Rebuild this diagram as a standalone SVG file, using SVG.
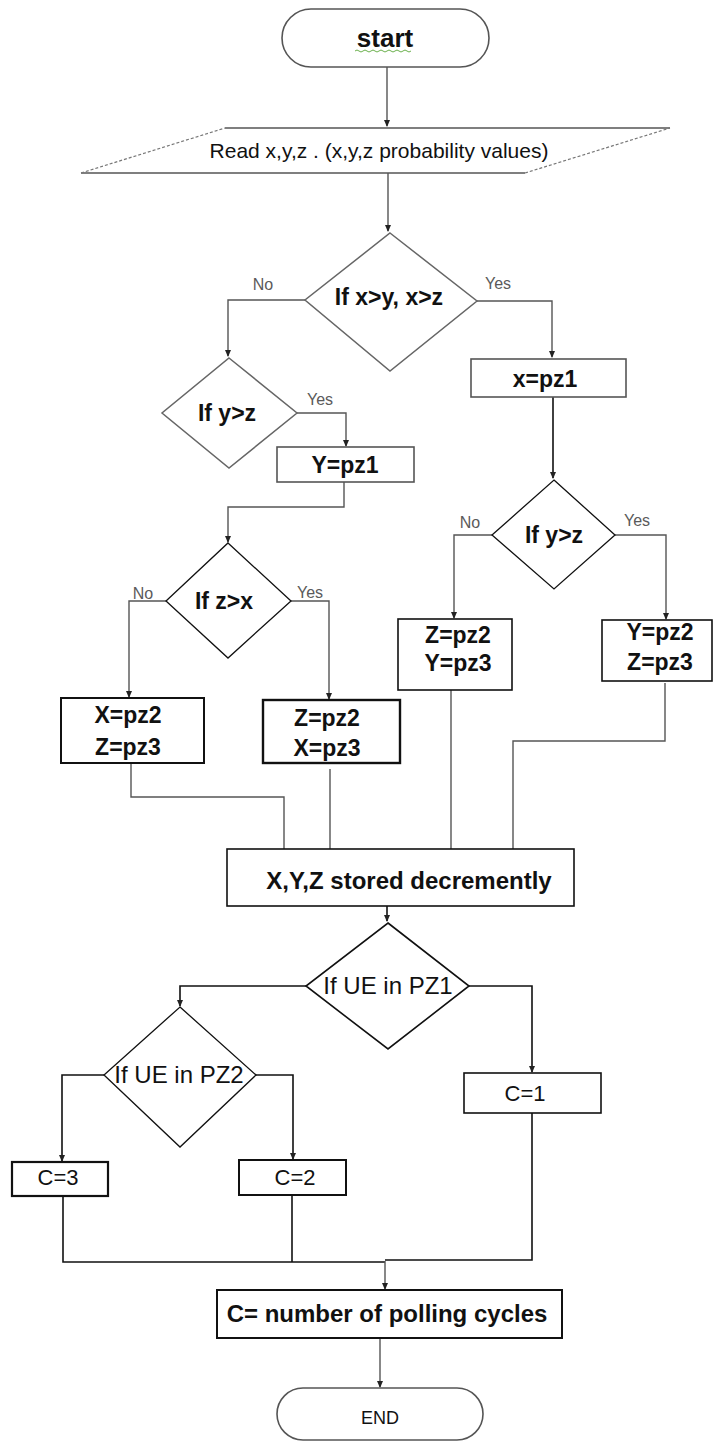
<svg xmlns="http://www.w3.org/2000/svg" width="713" height="1445" viewBox="0 0 713 1445">
<defs>
<style>
.bg{fill:#fff}
.box{fill:#fff;stroke:#555;stroke-width:1.6}
.boxk{fill:#fff;stroke:#111;stroke-width:2}
.dia{fill:#fff;stroke:#666;stroke-width:1.5}
.diak{fill:#fff;stroke:#111;stroke-width:1.6}
.ln{fill:none;stroke:#555;stroke-width:1.4}
.lnk{fill:none;stroke:#111;stroke-width:1.6}
.t{font-family:"Liberation Sans",Arial,sans-serif;fill:#111;text-anchor:middle}
.b{font-weight:bold}
.lab{font-family:"Liberation Sans",Arial,sans-serif;fill:#5a5a5a;font-size:16px;text-anchor:middle}
</style>
<marker id="ah" markerWidth="8" markerHeight="8" refX="6" refY="4" orient="auto" markerUnits="userSpaceOnUse">
<path d="M0,1 L7,4 L0,7 Z" fill="#222"/>
</marker>
</defs>
<rect class="bg" x="0" y="0" width="713" height="1445"/>

<g id="connectors">
<path class="ln" d="M387,67 V126" marker-end="url(#ah)"/>
<path class="ln" d="M388,173 V231" marker-end="url(#ah)"/>
<path class="ln" d="M305,300 H228 V356" marker-end="url(#ah)"/>
<path class="ln" d="M477,301 H552 V357" marker-end="url(#ah)"/>
<path class="ln" d="M297,413 H346 V446" marker-end="url(#ah)"/>
<path class="ln" d="M344,482 V507 H228 V542" marker-end="url(#ah)"/>
<path class="lnk" d="M553,397 V478" marker-end="url(#ah)"/>
<path class="ln" d="M492,535 H454 V618" marker-end="url(#ah)"/>
<path class="ln" d="M615,535 H666 V619" marker-end="url(#ah)"/>
<path class="ln" d="M166,601 H129 V697" marker-end="url(#ah)"/>
<path class="ln" d="M291,601 H329 V699" marker-end="url(#ah)"/>
<path class="ln" d="M131,763 V797 H284 V849"/>
<path class="ln" d="M330,769 V849"/>
<path class="ln" d="M451,690 V849"/>
<path class="ln" d="M665,683 V741 H513 V849"/>
<path class="lnk" d="M387,906 V921" marker-end="url(#ah)"/>
<path class="lnk" d="M306,986 H180 V1006" marker-end="url(#ah)"/>
<path class="lnk" d="M469,986 H532 V1072" marker-end="url(#ah)"/>
<path class="lnk" d="M104,1075 H62 V1161" marker-end="url(#ah)"/>
<path class="lnk" d="M256,1075 H293 V1159" marker-end="url(#ah)"/>
<path class="lnk" d="M63,1196 V1262 H385"/>
<path class="lnk" d="M292,1195 V1262"/>
<path class="lnk" d="M532,1113 V1260 H385"/>
<path class="ln" d="M385,1261 V1289" marker-end="url(#ah)"/>
<path class="ln" d="M380,1338 V1387" marker-end="url(#ah)"/>
</g>

<g id="start">
<rect x="282" y="9" width="207" height="58" rx="29" ry="29" fill="#fff" stroke="#555" stroke-width="1.6"/>
<text class="t b" x="385" y="47" font-size="26">start</text>
<path d="M355,51 q2,-2 4,0 t4,0 t4,0 t4,0 t4,0 t4,0 t4,0 t4,0 t4,0 t4,0 t4,0 t4,0 t4,0 t4,0" fill="none" stroke="#6ab04c" stroke-width="1"/>
</g>

<g id="read">
<path d="M225,128 H670" fill="none" stroke="#555" stroke-width="1.6"/>
<path d="M81,173 H525" fill="none" stroke="#555" stroke-width="1.6"/>
<path d="M81,173 L225,128 M525,173 L670,128" fill="none" stroke="#777" stroke-width="1.2" stroke-dasharray="3,2"/>
<text class="t" x="379" y="158" font-size="21" fill="#333">Read x,y,z . (x,y,z probability values)</text>
</g>

<g id="d_xyz">
<polygon class="dia" points="390,233 477,301 390,371 305,300"/>
<text class="t b" x="389" y="305" font-size="23">If x&gt;y, x&gt;z</text>
<text class="lab" x="263" y="290">No</text>
<text class="lab" x="498" y="289">Yes</text>
</g>

<g id="d_yz_left">
<polygon class="dia" points="229,358 297,413 229,468 162,413"/>
<text class="t b" x="227" y="421" font-size="23">If y&gt;z</text>
<text class="lab" x="320" y="405">Yes</text>
</g>

<g id="b_ypz1">
<rect class="box" x="277" y="447" width="137" height="35"/>
<text class="t b" x="345" y="473" font-size="23">Y=pz1</text>
</g>

<g id="b_xpz1">
<rect class="box" x="471" y="359" width="155" height="38"/>
<text class="t b" x="545" y="387" font-size="23">x=pz1</text>
</g>

<g id="d_yz_right">
<polygon class="diak" points="554,480 615,535 554,589 492,535" style="stroke-width:1.3"/>
<text class="t b" x="554" y="543" font-size="23">If y&gt;z</text>
<text class="lab" x="470" y="528">No</text>
<text class="lab" x="637" y="526">Yes</text>
</g>

<g id="b_zy">
<rect class="boxk" x="398" y="619" width="114" height="71" style="stroke-width:1.6"/>
<text class="t b" x="458" y="643" font-size="23">Z=pz2</text>
<text class="t b" x="458" y="671" font-size="23">Y=pz3</text>
</g>

<g id="b_yz">
<rect class="boxk" x="602" y="620" width="110" height="61" style="stroke-width:1.6"/>
<text class="t b" x="660" y="640" font-size="23">Y=pz2</text>
<text class="t b" x="660" y="670" font-size="23">Z=pz3</text>
</g>

<g id="d_zx">
<polygon class="diak" points="228,543 291,601 228,658 166,601" style="stroke-width:1.3"/>
<text class="t b" x="224" y="609" font-size="23">If z&gt;x</text>
<text class="lab" x="143" y="599">No</text>
<text class="lab" x="310" y="598">Yes</text>
</g>

<g id="b_xz">
<rect class="boxk" x="61" y="698" width="143" height="65"/>
<text class="t b" x="128" y="723" font-size="23">X=pz2</text>
<text class="t b" x="128" y="755" font-size="23">Z=pz3</text>
</g>

<g id="b_zx">
<rect class="boxk" x="263" y="700" width="137" height="63" style="stroke-width:2.4"/>
<text class="t b" x="327" y="726" font-size="23">Z=pz2</text>
<text class="t b" x="327" y="756" font-size="23">X=pz3</text>
</g>

<g id="b_stored">
<rect class="boxk" x="227" y="849" width="347" height="57" style="stroke-width:1.6"/>
<text class="t b" x="409" y="889" font-size="24">X,Y,Z stored decremently</text>
</g>

<g id="d_pz1">
<polygon class="diak" points="388,923 469,986 388,1049 306,986"/>
<text class="t" x="388" y="994" font-size="24">If UE in PZ1</text>
</g>

<g id="d_pz2">
<polygon class="diak" points="180,1007 256,1075 180,1147 104,1075" style="stroke-width:1.3"/>
<text class="t" x="179" y="1083" font-size="24">If UE in PZ2</text>
</g>

<g id="b_c1">
<rect class="boxk" x="464" y="1073" width="137" height="40" style="stroke-width:1.6"/>
<text class="t" x="525" y="1101" font-size="22">C=1</text>
</g>

<g id="b_c3">
<rect class="boxk" x="12" y="1162" width="96" height="34" style="stroke-width:2.2"/>
<text class="t" x="58" y="1185" font-size="22">C=3</text>
</g>

<g id="b_c2">
<rect class="boxk" x="239" y="1160" width="107" height="35"/>
<text class="t" x="295" y="1185" font-size="22">C=2</text>
</g>

<g id="b_cycles">
<rect class="boxk" x="217" y="1290" width="345" height="48"/>
<text class="t b" x="387" y="1322" font-size="24">C= number of polling cycles</text>
</g>

<g id="end">
<rect x="277" y="1388" width="206" height="52" rx="26" ry="26" fill="#fff" stroke="#555" stroke-width="1.6"/>
<text class="t" x="380" y="1424" font-size="18" fill="#404040">END</text>
</g>
</svg>
